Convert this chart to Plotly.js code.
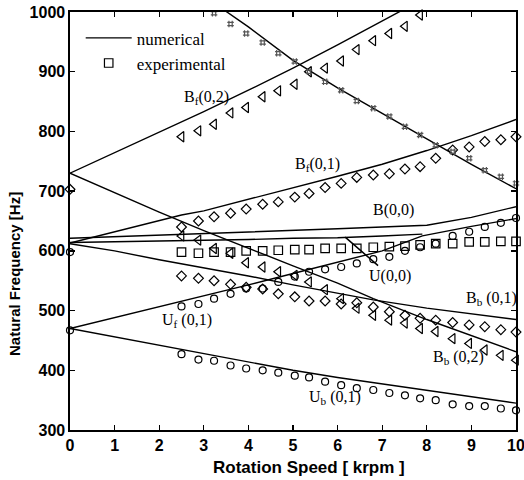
<!DOCTYPE html>
<html>
<head>
<meta charset="utf-8">
<script src="https://cdn.plot.ly/plotly-3.0.1.min.js"></script>
<style>html,body{margin:0;padding:0;background:#fff;}#chart{width:524px;height:480px;}</style>
</head>
<body>
<div id="chart"></div>
<script>
// ---- numerical curves ----
const bf02X = [0, 1, 2, 3, 4, 5, 6, 7, 8];
const bf02Y = [730, 764, 798, 833, 869, 906, 945, 985, 1025];
const topLineX = [3, 3.5, 4, 5, 6, 7, 8, 9, 10];
const topLineY = [1030, 1001, 975, 919, 873, 830, 787, 745, 704];
const bf01X = [0, 1, 2, 2.5, 3, 4, 5, 6, 7, 8, 9, 10];
const bf01Y = [613, 632, 650, 660, 667, 686, 705, 725, 745, 768, 793, 820];
const b00X = [0, 2, 4, 5, 6, 7, 8, 9, 10];
const b00Y = [621, 626, 631, 634, 637, 640, 643, 656, 674];
const u00X = [0, 2, 4, 5, 6, 7, 7.9];
const u00Y = [614, 616, 619, 621, 622, 625, 628];
const uf01X = [0, 1, 2, 3, 4, 5, 6, 7, 7.9, 9, 10];
const uf01Y = [470, 488, 507, 525, 543, 562, 581, 600, 625, 641, 654];
const bb01X = [0, 1, 2, 3, 4, 5, 6, 6.8, 8, 9, 10];
const bb01Y = [612, 600, 585, 572, 558, 543, 529, 518, 504, 494, 485];
const bb02X = [0, 1, 2, 3, 4, 5, 6, 6.8, 8, 9, 10];
const bb02Y = [730, 697, 665, 634, 604, 575, 546, 520, 485, 458, 431];
const ub01X = [0, 1, 2, 3, 4, 5, 6, 7, 8, 9, 10];
const ub01Y = [470, 456, 441, 427, 413, 400, 388, 377, 366, 356, 345];

// ---- experimental points ----
const expX = [2.5, 2.88, 3.23, 3.6, 3.95, 4.32, 4.67, 5.04, 5.36, 5.72, 6.08, 6.43, 6.8, 7.16, 7.51, 7.85, 8.2, 8.58, 8.95, 9.3, 9.66, 10];
const expStarX = [3.23, 3.6, 3.95, 4.32, 4.67, 5.04, 5.36, 5.72, 6.08, 6.43, 6.8, 7.16, 7.51, 7.85, 8.2, 8.58, 8.95, 9.3, 9.66, 10];
const expBf02X = [2.5, 2.88, 3.23, 3.6, 3.95, 4.32, 4.67, 5.04, 5.36, 5.72, 6.08, 6.43, 6.8, 7.16, 7.51, 7.85];
const squaresY = [598, 596, 598, 598, 600, 600, 601, 602, 602, 604, 604, 604, 606, 607, 608, 610, 612, 612, 615, 615, 616, 616];
const circUbY = [427, 418, 416, 408, 403, 400, 396, 391, 388, 381, 375, 370, 367, 362, 358, 353, 350, 343, 340, 340, 336, 333];
const circUfY = [507, 511, 520, 528, 537, 537, 548, 557, 565, 569, 573, 579, 586, 590, 600, 606, 612, 625, 632, 640, 647, 655];
const diamBb01Y = [558, 554, 550, 544, 539, 536, 528, 523, 516, 516, 511, 513, 506, 498, 492, 487, 484, 480, 476, 473, 468, 464];
const diamBf01Y = [640, 650, 657, 663, 670, 678, 682, 690, 696, 706, 713, 723, 727, 729, 737, 741, 755, 769, 774, 783, 786, 791];
const triBb02Y = [625, 618, 604, 596, 580, 573, 565, 559, 548, 535, 520, 504, 492, 484, 479, 470, 465, 453, 445, 434, 425, 417];
const triBf02Y = [791, 801, 812, 831, 840, 858, 868, 879, 900, 906, 918, 937, 952, 964, 976, 995];
const starY = [998, 980, 964, 949, 931, 917, 900, 883, 869, 851, 839, 825, 808, 794, 777, 766, 755, 735, 724, 713];
const zeroCircX = [0, 0];
const zeroCircY = [598, 467];
const zeroDiamX = [0];
const zeroDiamY = [703];

const xTicks = [0, 1, 2, 3, 4, 5, 6, 7, 8, 9, 10];
const yTicks = [300, 400, 500, 600, 700, 800, 900, 1000];

const LW = 1.4;
function line(x, y, name, show) {
  return {x: x, y: y, mode: 'lines', type: 'scatter', name: name || '', showlegend: !!show,
          line: {color: '#000', width: LW}, hoverinfo: 'skip'};
}
function pts(x, y, sym, size, name, show, color) {
  return {x: x, y: y, mode: 'markers', type: 'scatter', name: name || '', showlegend: !!show,
          cliponaxis: false,
          marker: {symbol: sym, size: size, color: color || '#000',
                   line: {color: color || '#000', width: 1.2}}, hoverinfo: 'skip'};
}

const traces = [
  line(bf02X, bf02Y, 'numerical', true),
  line(topLineX, topLineY),
  line(bf01X, bf01Y),
  line(b00X, b00Y),
  line(u00X, u00Y),
  line(uf01X, uf01Y),
  line(bb01X, bb01Y),
  line(bb02X, bb02Y),
  line(ub01X, ub01Y),
  pts(expX, squaresY, 'square-open', 8.5, 'experimental', true),
  pts(expX, circUbY, 'circle-open', 7),
  pts(expX, circUfY, 'circle-open', 7),
  pts(expX, diamBb01Y, 'diamond-open', 7.5),
  pts(expX, diamBf01Y, 'diamond-open', 7.5),
  pts(expX, triBb02Y, 'triangle-left-open', 9),
  pts(expBf02X, triBf02Y, 'triangle-left-open', 9),
  pts(expStarX, starY, 'hash-open', 6.5, '', false, '#555'),
  pts(zeroCircX, zeroCircY, 'circle-open', 7),
  pts(zeroDiamX, zeroDiamY, 'diamond-open', 7.5)
];

const serif = 'Liberation Serif, Times New Roman, serif';
const narrow = 'Liberation Sans Narrow, Arial Narrow, Liberation Sans, Arial, sans-serif';
function lab(x, y, text) {
  return {x: x, y: y, xref: 'x', yref: 'y', text: text, showarrow: false,
          font: {family: serif, size: 16, color: '#000'}};
}
const PL = 70, PR = 516, PT = 12, PB = 430;
const annotations = [
  lab(3.05, 856, 'B<sub>f</sub>(0,2)'),
  lab(5.56, 744, 'B<sub>f</sub>(0,1)'),
  lab(7.26, 668, 'B(0,0)'),
  lab(9.46, 521, 'B<sub>b</sub> (0,1)'),
  lab(8.7, 422, 'B<sub>b</sub> (0,2)'),
  lab(5.94, 355, 'U<sub>b</sub> (0,1)'),
  lab(2.62, 484, 'U<sub>f</sub> (0,1)'),
  {x: 6.17, y: 623, xref: 'x', yref: 'y', text: 'U(0,0)', showarrow: true,
   arrowhead: 0, arrowwidth: 1.5, arrowcolor: '#000', ax: 45, ay: 39, standoff: 0,
   font: {family: serif, size: 16, color: '#000'}},
  {xref: 'paper', yref: 'paper', x: (309 - PL) / (PR - PL), y: (PB - 467) / (PB - PT),
   xanchor: 'center', yanchor: 'middle', text: 'Rotation Speed [ krpm ]',
   showarrow: false, font: {family: narrow, size: 17, color: '#000', weight: 'bold'}},
  {xref: 'paper', yref: 'paper', x: (14 - PL) / (PR - PL), y: (PB - 274) / (PB - PT),
   xanchor: 'center', yanchor: 'middle', text: 'Natural Frequency [Hz]', textangle: -90,
   showarrow: false, font: {family: narrow, size: 15, color: '#000', weight: 'bold'}}
];

const axisCommon = {
  showline: true, linecolor: '#000', linewidth: 1.6, mirror: 'ticks',
  ticks: 'inside', ticklen: 5, tickwidth: 1.3, tickcolor: '#000',
  showgrid: false, zeroline: false, ticklabeloverflow: 'allow',
  tickfont: {family: narrow, size: 16, color: '#000', weight: 'bold'}
};

const layout = {
  width: 524, height: 480,
  margin: {l: 70, r: 8, t: 12, b: 50},
  paper_bgcolor: '#fff', plot_bgcolor: '#fff',
  xaxis: Object.assign({}, axisCommon, {
    range: [0, 10], tickvals: xTicks, ticktext: xTicks.map(String)
  }),
  yaxis: Object.assign({}, axisCommon, {
    range: [300, 1000], tickvals: yTicks, ticktext: yTicks.map(String)
  }),
  showlegend: true,
  legend: {x: 0.024, y: 0.98, xanchor: 'left', yanchor: 'top',
           bgcolor: 'rgba(0,0,0,0)', borderwidth: 0,
           font: {family: serif, size: 17, color: '#000'},
           itemwidth: 46, tracegroupgap: 2},
  annotations: annotations
};

Plotly.newPlot('chart', traces, layout, {displayModeBar: false, staticPlot: true});
</script>
</body>
</html>
